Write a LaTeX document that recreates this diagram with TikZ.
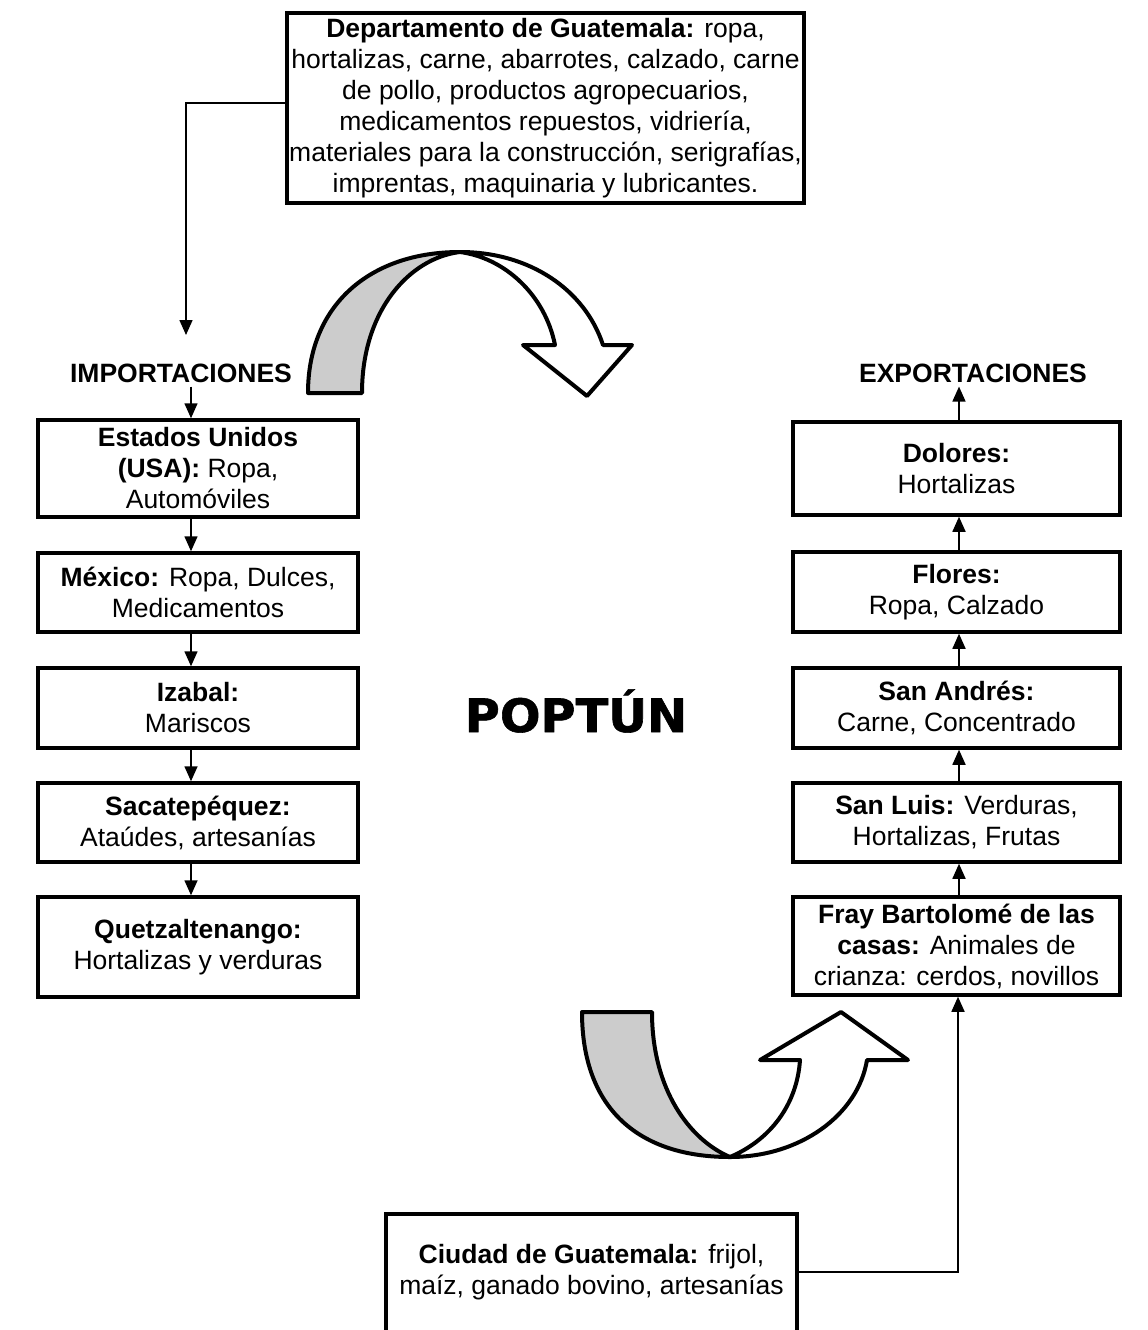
\documentclass[tikz,border=0pt]{standalone}
\usepackage{fontspec}
\setmainfont{Liberation Sans}
\newfontfamily\heavyfont[FakeBold=1.2]{DejaVu Sans Bold}
\usetikzlibrary{arrows.meta}
\definecolor{ribbon}{RGB}{204,204,204}
\begin{document}
\begin{tikzpicture}[x=1pt,y=-1pt,
  box/.style={draw, line width=3.5pt, align=center, inner sep=2pt,
              font=\fontsize{26.5}{31}\selectfont},
  heading/.style={inner sep=0pt, font=\fontsize{26.5}{31}\selectfont\bfseries},
  conn/.style={line width=1.6pt},
  flow/.style={conn, -{Triangle[width=13pt,length=15pt]}},
  band/.style={line width=4pt, line join=round}
]
\useasboundingbox (0,0) rectangle (1148,1330);
\clip (0,0) rectangle (1148,1330);

% source box at the top
\node[box, minimum width=511, minimum height=190] (dep) at (545.5,108)
  {\textbf{Departamento de Guatemala:} ropa,\\
   hortalizas, carne, abarrotes, calzado, carne\\
   de pollo, productos agropecuarios,\\
   medicamentos repuestos, vidriería,\\
   materiales para la construcción, serigrafías,\\
   imprentas, maquinaria y lubricantes.};

% imports column
\node[heading] (imp) at (181,373) {IMPORTACIONES};
\node[box, minimum width=320, minimum height=97] (usa) at (198,468.5)
  {\textbf{Estados Unidos}\\ \textbf{(USA):} Ropa,\\ Automóviles};
\node[box, minimum width=320, minimum height=79] (mex) at (198,592.5)
  {\textbf{México:} Ropa, Dulces,\\ Medicamentos};
\node[box, minimum width=320, minimum height=80] (iza) at (198,708)
  {\textbf{Izabal:}\\ Mariscos};
\node[box, minimum width=320, minimum height=79] (sac) at (198,822.5)
  {\textbf{Sacatepéquez:}\\ Ataúdes, artesanías};
\node[box, minimum width=320, minimum height=100] (que) at (198,947)
  {\textbf{Quetzaltenango:}\\ Hortalizas y verduras};

% exports column
\node[heading] (exp) at (973,373) {EXPORTACIONES};
\node[box, minimum width=327, minimum height=93] (dol) at (956.5,468.5)
  {\textbf{Dolores:}\\ Hortalizas};
\node[box, minimum width=327, minimum height=80] (flo) at (956.5,592)
  {\textbf{Flores:}\\ Ropa, Calzado};
\node[box, minimum width=327, minimum height=80] (sand) at (956.5,708)
  {\textbf{San Andrés:}\\ Carne, Concentrado};
\node[box, minimum width=327, minimum height=79] (slu) at (956.5,822.5)
  {\textbf{San Luis:} Verduras,\\ Hortalizas, Frutas};
\node[box, minimum width=327, minimum height=98] (fray) at (956.5,946)
  {\textbf{Fray Bartolomé de las}\\ \textbf{casas:} Animales de\\ crianza: cerdos, novillos};

% centre title
\node[inner sep=0pt, xscale=1.04, font=\heavyfont\fontsize{46}{50}\selectfont] (pop) at (576,711) {POPTÚN};

% lower source box (runs off the page bottom)
\node[box, minimum width=411, minimum height=152, anchor=north] (ciu) at (591.5,1212)
  {\textbf{Ciudad de Guatemala:} frijol,\\ maíz, ganado bovino, artesanías\\ \strut};

% connectors
\coordinate (lx) at (191,0);
\coordinate (rx) at (959,0);
\coordinate (bend) at (186,103);
\coordinate (drop) at (186,335);
\coordinate (jn) at (958,1272);

\draw[flow] (dep.west |- bend) -- (bend) -- (drop);
\draw[flow, shorten <=4pt] (imp.south -| lx) -- (usa.north -| lx);
\foreach \a/\b in {usa/mex, mex/iza, iza/sac, sac/que}
  \draw[flow] (\a.south -| lx) -- (\b.north -| lx);
\foreach \a/\b in {fray/slu, slu/sand, sand/flo, flo/dol}
  \draw[flow] (\a.north -| rx) -- (\b.south -| rx);
\draw[flow, shorten >=4pt] (dol.north -| rx) -- (exp.south -| rx);
\draw[flow] (ciu.east |- jn) -- (jn) -- (fray.south -| jn);

% upper ribbon arrow: grey back, white front with head
\draw[band, fill=ribbon] (308,393) .. controls (308,305) and (370,252) .. (460,252)
  .. controls (410,258) and (362,310) .. (362,393) -- cycle;
\draw[band, fill=white] (460,252) .. controls (530,252) and (585,290) .. (603,345)
  -- (632,345) -- (587,396) -- (523,345) -- (555,345)
  .. controls (545,295) and (505,258) .. (460,252) -- cycle;

% lower ribbon arrow
\draw[band, fill=ribbon] (582,1012) .. controls (582,1110) and (640,1157) .. (730,1157)
  .. controls (690,1140) and (652,1090) .. (652,1012) -- cycle;
\draw[band, fill=white] (730,1157) .. controls (800,1157) and (858,1115) .. (867,1060)
  -- (908,1060) -- (841,1012) -- (760,1060) -- (800,1060)
  .. controls (797,1105) and (770,1140) .. (730,1157) -- cycle;
\end{tikzpicture}
\end{document}
